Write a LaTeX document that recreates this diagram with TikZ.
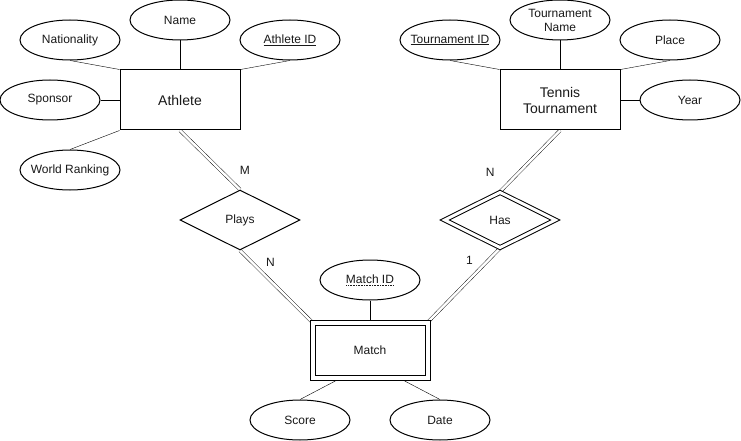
\documentclass[tikz,border=0pt]{standalone}
\usepackage{fontspec}
\setmainfont{Liberation Sans}
\usetikzlibrary{shapes.geometric,calc}

\pgfdeclarelayer{background}
\pgfsetlayers{background,main}

% dotted underline for the partial key
\newsavebox\dotulbox
\newcommand{\dotul}[1]{\sbox\dotulbox{#1}\usebox\dotulbox\kern-\wd\dotulbox
  \raisebox{-2.5pt}{\hbox to \wd\dotulbox{\xleaders\hbox to 1.6pt{\hss\rule{0.8pt}{0.7pt}\hss}\hfill}}}

\tikzset{
  entity/.style={draw,fill=white,minimum width=120pt,minimum height=60pt,inner sep=0pt,align=center,font=\fontsize{14}{16}\selectfont},
  weakentity/.style={entity,double,double distance=4pt,minimum width=115pt,minimum height=55pt,font=\fontsize{12}{14}\selectfont},
  attr/.style={draw,fill=white,ellipse,minimum width=100pt,minimum height=40pt,inner xsep=-5pt,inner ysep=0pt,align=center,font=\fontsize{12}{14}\selectfont},
  rel/.style={draw,fill=white,diamond,aspect=2,minimum width=120pt,minimum height=60pt,inner sep=0pt,font=\fontsize{12}{14}\selectfont},
  weakrel/.style={rel,double,double distance=3pt,minimum width=111pt,minimum height=55.5pt},
  link/.style={double,double distance=2.5pt},
  card/.style={font=\fontsize{12}{14}\selectfont}
}

\begin{document}
\begin{tikzpicture}[x=1pt,y=-1pt,line width=1pt,text=black!90]
\useasboundingbox (0,0) rectangle (741,441);

\node[entity] at (180,100) (ath) {Athlete};
\node[attr] at (180,20) (name) {Name};
\node[attr] at (70,40) (nat) {Nationality};
\node[attr] at (290,40) (aid) {\underline{Athlete ID}};
\node[attr] at (50,100) (spon) {Sponsor};
\node[attr] at (70,170) (rank) {World Ranking};

\node[entity] at (560,100) (tour) {Tennis\\Tournament};
\node[attr] at (450,40) (tid) {\underline{Tournament ID}};
\node[attr] at (560,20) (tname) {Tournament\\Name};
\node[attr] at (670,40) (place) {Place};
\node[attr] at (690,100) (year) {Year};

\node[rel] at (240,220) (plays) {Plays};
\node[weakrel] at (500,220) (has) {Has};

\node[weakentity] at (370,350) (match) {Match};
\node[attr] at (370,280) (mid) {\dotul{Match ID}};
\node[attr] at (300,420) (score) {Score};
\node[attr] at (440,420) (date) {Date};

\begin{pgfonlayer}{background}
\draw (nat.south) -- (ath.north west);
\draw (name) -- (ath);
\draw (aid.south) -- (ath.north east);
\draw (spon) -- (ath);
\draw (rank.north) -- (ath.south west);

\draw (tid.south) -- (tour.north west);
\draw (tname) -- (tour);
\draw (place.south) -- (tour.north east);
\draw (year) -- (tour);

\draw (mid) -- (match);
\draw ($(match.south west)!0.25!(match.south east)$) -- (score.north);
\draw ($(match.south west)!0.75!(match.south east)$) -- (date.north);

\draw[link] (ath.south) -- node[card,pos=0.68,xshift=24pt] {M} (plays.north);
\draw[link] (plays.south) -- node[card,pos=0.16,xshift=19pt] {N} (match.north west);
\draw[link] (tour.south) -- node[card,pos=0.68,xshift=-29pt] {N} (has.north);
\draw[link] (has.south) -- node[card,pos=0.16,xshift=-19pt] {1} (match.north east);
\end{pgfonlayer}

\end{tikzpicture}
\end{document}
